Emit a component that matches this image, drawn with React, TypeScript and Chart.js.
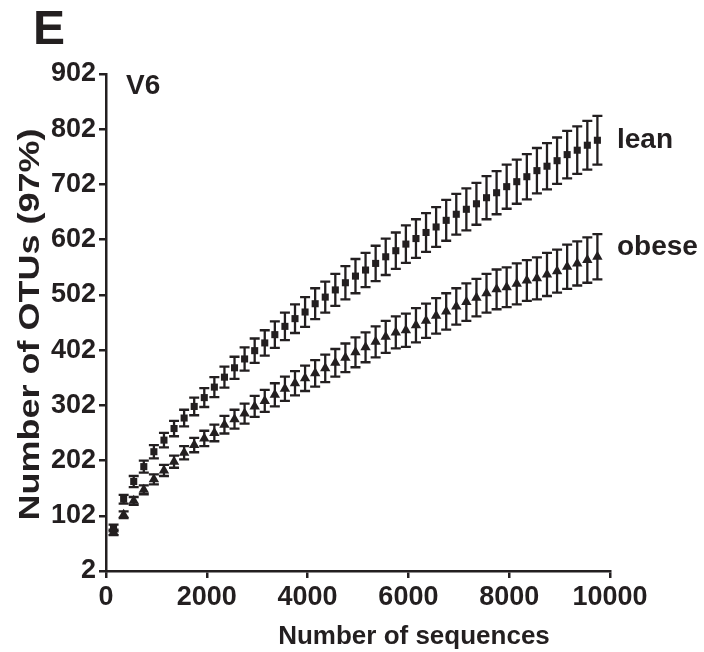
import React, { useEffect, useRef } from 'react';
import { Chart, registerables } from 'chart.js';

Chart.register(...registerables);

const sequences = [150, 350, 550, 750, 950, 1150, 1350, 1550, 1750, 1950, 2150, 2350, 2550, 2750, 2950, 3150, 3350, 3550, 3750, 3950, 4150, 4350, 4550, 4750, 4950, 5150, 5350, 5550, 5750, 5950, 6150, 6350, 6550, 6750, 6950, 7150, 7350, 7550, 7750, 7950, 8150, 8350, 8550, 8750, 8950, 9150, 9350, 9550, 9750];
const leanOTUs = [80, 132, 164, 191, 218, 239, 260, 279, 300, 316, 335, 353, 370, 386, 401, 415, 430, 445, 459, 471, 486, 498, 511, 524, 536, 547, 559, 571, 582, 594, 604, 615, 625, 637, 648, 657, 667, 678, 687, 698, 707, 716, 727, 735, 745, 756, 764, 773, 782];
const leanErr = [6, 8, 10, 11, 12, 13, 14, 15, 16, 17, 18, 19, 20, 21, 22, 23, 24, 25, 26, 27, 28, 28, 29, 30, 31, 31, 32, 33, 33, 34, 35, 35, 36, 37, 37, 38, 38, 39, 39, 40, 40, 41, 41, 42, 42, 43, 43, 44, 44];
const obeseOTUs = [72, 104, 129, 149, 168, 184, 200, 216, 230, 242, 252, 267, 277, 287, 300, 310, 321, 332, 342, 351, 360, 369, 379, 388, 398, 407, 417, 426, 434, 438, 447, 455, 464, 472, 481, 489, 497, 505, 512, 516, 522, 528, 532, 539, 545, 553, 559, 565, 571];
const obeseErr = [5, 6, 7, 8, 9, 10, 11, 12, 13, 14, 15, 16, 17, 18, 19, 20, 21, 22, 22, 23, 24, 25, 25, 26, 27, 27, 28, 29, 29, 30, 31, 31, 32, 33, 33, 34, 34, 35, 36, 36, 37, 37, 38, 39, 39, 40, 40, 41, 41];
const xTicks = [0, 2000, 4000, 6000, 8000, 10000];
const yTicks = [2, 102, 202, 302, 402, 502, 602, 702, 802, 902];
const seriesNames = ['lean', 'obese'];
const panelLabel = 'E';
const regionLabel = 'V6';
const xTitle = 'Number of sequences';
const yTitle = 'Number of OTUs (97%)';

const INK = '#231f20';
const FONT = "'Liberation Sans', Arial, Helvetica, sans-serif";

const errorBars = {
  id: 'errorBars',
  beforeDatasetsDraw(chart: any) {
    const { ctx, scales } = chart;
    const xs = scales.x;
    const ys = scales.y;
    ctx.save();
    ctx.strokeStyle = INK;
    ctx.lineWidth = 2.3;
    chart.data.datasets.forEach((ds: any) => {
      const errs: number[] = ds.errors;
      ds.data.forEach((pt: any, j: number) => {
        const px = xs.getPixelForValue(pt.x);
        const top = ys.getPixelForValue(pt.y + errs[j]);
        const bot = ys.getPixelForValue(pt.y - errs[j]);
        ctx.beginPath();
        ctx.moveTo(px, top);
        ctx.lineTo(px, bot);
        ctx.moveTo(px - 5, top);
        ctx.lineTo(px + 5, top);
        ctx.moveTo(px - 5, bot);
        ctx.lineTo(px + 5, bot);
        ctx.stroke();
      });
    });
    ctx.restore();
  },
};

const annotations = {
  id: 'annotations',
  afterDraw(chart: any) {
    const { ctx, chartArea, scales } = chart;
    const ys = scales.y;
    ctx.save();
    ctx.fillStyle = INK;
    ctx.textBaseline = 'middle';
    ctx.textAlign = 'left';
    ctx.font = `bold 48px ${FONT}`;
    ctx.fillText(panelLabel, 33, 31);
    ctx.font = `bold 28px ${FONT}`;
    ctx.fillText(regionLabel, chartArea.left + 20, 86);
    const lx = chartArea.right + 7;
    ctx.fillText(seriesNames[0], lx, ys.getPixelForValue(leanOTUs[leanOTUs.length - 1]));
    ctx.fillText(seriesNames[1], lx, ys.getPixelForValue(obeseOTUs[obeseOTUs.length - 1]) - 10);
    ctx.font = `bold 26px ${FONT}`;
    ctx.textAlign = 'center';
    ctx.fillText(xTitle, 414, 637);
    // y-axis title (slightly elongated along its length, as in the source figure)
    ctx.translate(31, (chartArea.top + chartArea.bottom) / 2 + 2);
    ctx.rotate(-Math.PI / 2);
    ctx.scale(1.2, 1);
    ctx.font = `bold 30px ${FONT}`;
    ctx.fillText(yTitle, 0, 0);
    ctx.restore();
  },
};

export default function App() {
  const ref = useRef<HTMLCanvasElement | null>(null);
  useEffect(() => {
    if (!ref.current) return;
    const chart = new Chart(ref.current, {
      type: 'scatter',
      data: {
        datasets: [
          {
            label: seriesNames[0],
            data: sequences.map((x, i) => ({ x, y: leanOTUs[i] })),
            errors: leanErr,
            pointStyle: 'rect',
            pointRadius: 5,
            backgroundColor: INK,
            borderColor: INK,
            borderWidth: 0,
          } as any,
          {
            label: seriesNames[1],
            data: sequences.map((x, i) => ({ x, y: obeseOTUs[i] })),
            errors: obeseErr,
            pointStyle: 'triangle',
            pointRadius: 6,
            backgroundColor: INK,
            borderColor: INK,
            borderWidth: 0,
          } as any,
        ],
      },
      options: {
        animation: false,
        responsive: false,
        devicePixelRatio: 1,
        layout: { padding: { left: 0, right: 94, top: 74, bottom: 0 } },
        plugins: { legend: { display: false }, tooltip: { enabled: false } },
        scales: {
          x: {
            type: 'linear',
            min: 0,
            max: 10000,
            afterBuildTicks: (s: any) => {
              s.ticks = xTicks.map((v) => ({ value: v }));
            },
            afterFit: (s: any) => {
              s.height = 81;
            },
            ticks: {
              color: INK,
              font: { family: FONT, size: 27, weight: 'bold' },
              padding: 3,
              maxRotation: 0,
              autoSkip: false,
              callback: (v: any) => String(v),
            },
            grid: { drawOnChartArea: false, drawTicks: true, tickLength: 7, color: INK, lineWidth: 2.5 },
            border: { display: true, color: INK, width: 2.5 },
          },
          y: {
            type: 'linear',
            min: 2,
            max: 902,
            afterBuildTicks: (s: any) => {
              s.ticks = yTicks.map((v) => ({ value: v }));
            },
            afterFit: (s: any) => {
              s.width = 106;
            },
            ticks: {
              color: INK,
              font: { family: FONT, size: 27, weight: 'bold' },
              padding: 3,
              autoSkip: false,
              callback: (v: any) => String(v),
            },
            grid: { drawOnChartArea: false, drawTicks: true, tickLength: 7, color: INK, lineWidth: 2.5 },
            border: { display: true, color: INK, width: 2.5 },
          },
        },
      },
      plugins: [errorBars, annotations],
    } as any);
    return () => chart.destroy();
  }, []);
  return (
    <div style={{ position: 'absolute', left: 0, top: 0, width: 704, height: 652, background: '#fff' }}>
      <canvas ref={ref} width={704} height={652} style={{ width: 704, height: 652, display: 'block' }} />
    </div>
  );
}
